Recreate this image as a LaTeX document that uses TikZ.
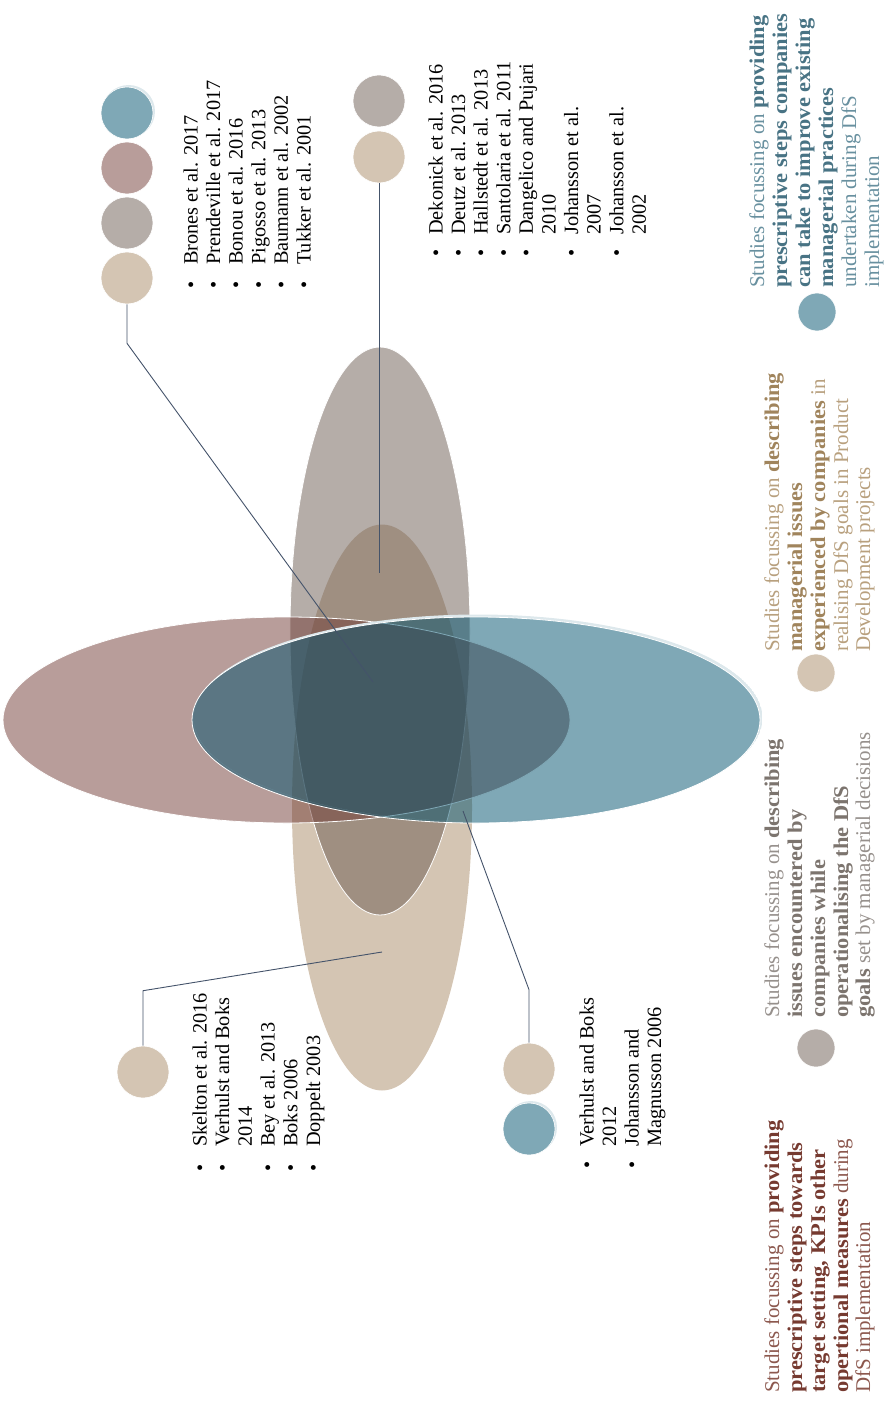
\documentclass[tikz,border=0pt]{standalone}
\usepackage{graphicx}
\usepackage{fontspec}
\setmainfont{Liberation Serif}

% disc and ellipse colours
\definecolor{cBlue}{HTML}{7FA8B6}
\definecolor{cMauve}{HTML}{B89D9A}
\definecolor{cGrey}{HTML}{B5ADA8}
\definecolor{cBeige}{HTML}{D4C5B3}
\definecolor{eBlue}{RGB}{0,81,109}
\definecolor{eMauve}{RGB}{113,59,53}
\definecolor{eGrey}{RGB}{107,91,81}
\definecolor{halo}{HTML}{DDE8EC}
\definecolor{wire}{HTML}{44536A}
% legend text colours
\definecolor{tBlueL}{RGB}{104,144,159}
\definecolor{tBlueB}{RGB}{72,115,132}
\definecolor{tBeigeL}{RGB}{184,160,126}
\definecolor{tBeigeB}{RGB}{160,132,92}
\definecolor{tGreyL}{RGB}{150,144,140}
\definecolor{tGreyB}{RGB}{124,116,110}
\definecolor{tMauveL}{RGB}{140,88,78}
\definecolor{tMauveB}{RGB}{118,58,48}

% bold, slightly widened, coloured run of text
\newcommand\Bd[2]{\scalebox{1.07}[1]{\textbf{\color{#1}#2}}}

\begin{document}
\begin{tikzpicture}[x=1pt,y=-1pt,
  disc/.style={circle, inner sep=0, minimum size=52, draw=white, line width=0.6},
  keydisc/.style={disc, minimum size=38},
  lens/.style={fill opacity=0.5, draw=white, line width=0.8},
  wireline/.style={draw=wire, line width=0.9},
  item/.style={rotate=90, anchor=base west, inner sep=0, font=\fontsize{20.3}{23}\selectfont},
  legend/.style={rotate=90, anchor=base west, inner sep=0, font=\fontsize{21}{23}\selectfont},
]
\useasboundingbox (0,0) rectangle (886,1404);

% ---- overlapping ellipses ----
\fill[cBeige] (382,807.5) ellipse [x radius=90, y radius=283];
\path[lens, fill=eGrey] (380,631) ellipse [x radius=90, y radius=284];
\path[lens, fill=eMauve] (286.5,720) ellipse [x radius=283.5, y radius=103];
% pale rim along the upper right of the blue ellipse
\begin{scope}
  \clip (478,718) ellipse [x radius=284.5, y radius=103.5];
  \fill[halo, even odd rule] (478,718) ellipse [x radius=284.5, y radius=103.5]
                             (476,720) ellipse [x radius=284, y radius=103];
\end{scope}
\path[lens, fill=eBlue] (476,720) ellipse [x radius=284, y radius=103];

% ---- end points inside the ellipses ----
\coordinate (pA) at (373,682);
\coordinate (pB) at (379,573);
\coordinate (pC) at (382,952);
\coordinate (pD) at (463,811);

% ---- disc groups ----
\fill[halo] (128.6,111.4) circle (26.4);
\node[disc, fill=cBlue]  (dA1) at (127,113) {};
\node[disc, fill=cMauve] (dA2) at (127,168) {};
\node[disc, fill=cGrey]  (dA3) at (127,223) {};
\node[disc, fill=cBeige] (dA4) at (127,278) {};

\node[disc, fill=cGrey]  (dB1) at (379,101) {};
\node[disc, fill=cBeige] (dB2) at (379,157) {};

\node[disc, fill=cBeige] (dC1) at (143,1072) {};

\node[disc, fill=cBeige] (dD1) at (529,1069) {};
\fill[halo] (530.6,1127.4) circle (26.4);
\node[disc, fill=cBlue]  (dD2) at (529,1129) {};

% ---- connectors ----
\draw[wireline] (dA4.south) -- ++(0,39) -- (pA);
\draw[wireline] (dB2.south) -- (pB);
\draw[wireline] (dC1.north) -- ++(0,-55) -- (pC);
\draw[wireline] (dD1.north) -- ++(0,-53) -- (pD);

% ---- reference lists ----
\foreach \k/\b/\t in {0/1/Brones et al. 2017, 1/1/Prendeville et al. 2017,
    2/1/Bonou et al. 2016, 3/1/Pigosso et al. 2013, 4/1/Baumann et al. 2002,
    5/1/Tukker et al. 2001} {
  \node[item, name=la\k] at ({197.5+22.6*\k},265) {\t};
  \ifnum\b=1 \node[item, name=lab\k] at ({197.5+22.6*\k},288.5) {\textbullet};\fi
}
\foreach \k/\b/\t in {0/1/Dekonick et al. 2016, 1/1/Deutz et al. 2013,
    2/1/Hallstedt et al. 2013, 3/1/Santolaria et al. 2011, 4/1/Dangelico and Pujari,
    5/0/2010, 6/1/Johansson et al., 7/0/2007, 8/1/Johansson et al., 9/0/2002} {
  \node[item, name=lb\k] at ({442.5+22.6*\k},235) {\t};
  \ifnum\b=1 \node[item, name=lbb\k] at ({442.5+22.6*\k},256.5) {\textbullet};\fi
}
\foreach \k/\b/\t in {0/1/Skelton et al. 2016, 1/1/Verhulst and Boks, 2/0/2014,
    3/1/Bey et al. 2013, 4/1/Boks 2006, 5/1/Doppelt 2003} {
  \node[item, name=lc\k] at ({206.5+22.7*\k},1147) {\t};
  \ifnum\b=1 \node[item, name=lcb\k] at ({206.5+22.7*\k},1171.5) {\textbullet};\fi
}
\foreach \k/\b/\t in {0/1/Verhulst and Boks, 1/0/2012, 2/1/Johansson and,
    3/0/Magnusson 2006} {
  \node[item, name=ld\k] at ({593.5+22.5*\k},1147) {\t};
  \ifnum\b=1 \node[item, name=ldb\k] at ({593.5+22.5*\k},1168.5) {\textbullet};\fi
}

% ---- legend ----
\node[keydisc, fill=cBlue] (k1) at (817,312) {};
\node[legend, text=tBlueL] (l1a) at (764,288) {Studies focussing on \Bd{tBlueB}{providing}};
\node[legend, text=tBlueL] (l1b) at (787,288) {\Bd{tBlueB}{prescriptive steps companies}};
\node[legend, text=tBlueL] (l1c) at (810,288) {\Bd{tBlueB}{can take to improve existing}};
\node[legend, text=tBlueL] (l1d) at (833,288) {\Bd{tBlueB}{managerial practices}};
\node[legend, text=tBlueL] (l1e) at (856,288) {undertaken during DfS};
\node[legend, text=tBlueL] (l1f) at (879,288) {implementation};

\node[keydisc, fill=cBeige] (k2) at (816,673) {};
\node[legend, text=tBeigeL] (l2a) at (779,652) {Studies focussing on \Bd{tBeigeB}{describing}};
\node[legend, text=tBeigeL] (l2b) at (802,652) {\Bd{tBeigeB}{managerial issues}};
\node[legend, text=tBeigeL] (l2c) at (825,652) {\Bd{tBeigeB}{experienced by companies} in};
\node[legend, text=tBeigeL] (l2d) at (848,652) {realising DfS goals in Product};
\node[legend, text=tBeigeL] (l2e) at (870,652) {Development projects};

\node[keydisc, fill=cGrey] (k3) at (816,1048) {};
\node[legend, text=tGreyL] (l3a) at (779,1018) {Studies focussing on \Bd{tGreyB}{describing}};
\node[legend, text=tGreyL] (l3b) at (802,1018) {\Bd{tGreyB}{issues encountered by}};
\node[legend, text=tGreyL] (l3c) at (825,1018) {\Bd{tGreyB}{companies while}};
\node[legend, text=tGreyL] (l3d) at (848,1018) {\Bd{tGreyB}{operationalising the DfS}};
\node[legend, text=tGreyL] (l3e) at (870,1018) {\Bd{tGreyB}{goals} set by managerial decisions};

\node[legend, text=tMauveL] (l4a) at (779,1393) {Studies focussing on \Bd{tMauveB}{providing}};
\node[legend, text=tMauveL] (l4b) at (802,1393) {\Bd{tMauveB}{prescriptive steps towards}};
\node[legend, text=tMauveL] (l4c) at (825,1393) {\Bd{tMauveB}{target setting, KPIs other}};
\node[legend, text=tMauveL] (l4d) at (848,1393) {\Bd{tMauveB}{opertional measures} during};
\node[legend, text=tMauveL] (l4e) at (870,1393) {DfS implementation};
\end{tikzpicture}
\end{document}
